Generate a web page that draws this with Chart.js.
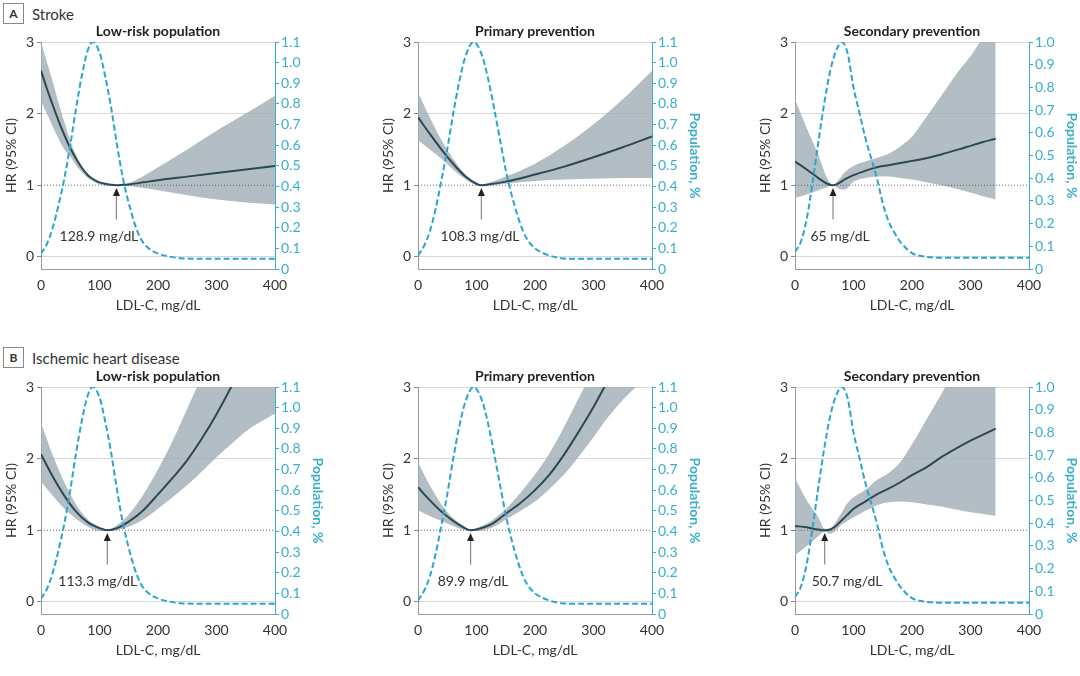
<!DOCTYPE html>
<html>
<head>
<meta charset="utf-8">
<script src="https://cdn.jsdelivr.net/npm/chart.js@4.4.0/dist/chart.umd.min.js"></script>
<style>
body { margin:0; width:1080px; height:676px; background:#fff; position:relative; overflow:hidden; font-family: Lato, sans-serif; }
.panel { position:absolute; width:326px; height:300px; }
.section { position:absolute; left:3px; font-size:15px; color:#333; display:flex; align-items:center; }
.section b { display:inline-block; width:19px; height:19px; border:1px solid #888; text-align:center; line-height:19px; font-size:12px; margin-right:8px; }
</style>
</head>
<body>
<div class="section" style="top:3px"><b>A</b>Stroke</div>
<div class="section" style="top:347px"><b>B</b>Ischemic heart disease</div>
<div class="panel" style="left:0px;top:20px"><canvas id="a1"></canvas></div>
<div class="panel" style="left:377px;top:20px"><canvas id="a2"></canvas></div>
<div class="panel" style="left:754px;top:20px"><canvas id="a3"></canvas></div>
<div class="panel" style="left:0px;top:365px"><canvas id="b1"></canvas></div>
<div class="panel" style="left:377px;top:365px"><canvas id="b2"></canvas></div>
<div class="panel" style="left:754px;top:365px"><canvas id="b3"></canvas></div>
<script>
// tick labels
const xTicks = [0, 100, 200, 300, 400]
const hrTicks = [0, 1, 2, 3]

// stroke, low-risk
const xA1 = [0,10,20,30,40,50,60,70,80,90,100,110,120,128.9,140,150,175,200,250,300,350,400]
const hrA1 = [2.6,2.35,2.12,1.9,1.7,1.52,1.37,1.24,1.14,1.08,1.04,1.02,1.005,1.0,1.005,1.01,1.04,1.07,1.12,1.17,1.22,1.27]
const upA1 = [3.0,2.72,2.45,2.15,1.88,1.62,1.42,1.27,1.16,1.09,1.05,1.03,1.01,1.0,1.01,1.03,1.13,1.25,1.5,1.76,2.0,2.25]
const loA1 = [2.17,2.0,1.82,1.65,1.5,1.4,1.28,1.18,1.1,1.05,1.01,1.0,0.995,1.0,0.995,0.99,0.96,0.93,0.86,0.8,0.76,0.73]

// stroke, primary prevention
const xA2 = [0,20,40,60,80,100,108.3,120,150,200,250,300,350,400]
const hrA2 = [1.95,1.72,1.5,1.3,1.13,1.02,1.0,1.01,1.05,1.15,1.26,1.39,1.53,1.68]
const upA2 = [2.3,1.95,1.63,1.37,1.16,1.04,1.01,1.03,1.12,1.3,1.55,1.85,2.2,2.6]
const loA2 = [1.63,1.5,1.37,1.22,1.09,1.0,0.995,0.995,1.02,1.06,1.08,1.09,1.1,1.1]

// stroke, secondary prevention
const xA3 = [0,20,40,55,65,75,85,100,120,140,160,180,200,220,250,280,300,320,343]
const hrA3 = [1.33,1.22,1.1,1.02,1.0,1.03,1.08,1.14,1.2,1.25,1.28,1.31,1.34,1.37,1.43,1.5,1.55,1.6,1.65]
const upA3 = [2.2,1.8,1.42,1.1,1.0,1.08,1.18,1.27,1.33,1.38,1.44,1.54,1.68,1.9,2.25,2.6,2.8,3.05,3.3]
const loA3 = [0.82,0.87,0.93,0.97,1.0,0.95,0.94,1.05,1.1,1.12,1.12,1.1,1.08,1.05,1.0,0.94,0.9,0.85,0.8]

// ischemic heart disease, low-risk
const xB1 = [0,20,40,60,80,100,113.3,130,150,175,200,225,250,275,300,325,350,400]
const hrB1 = [2.06,1.75,1.48,1.26,1.11,1.03,1.0,1.03,1.12,1.28,1.5,1.73,1.98,2.28,2.62,3.0,3.42,4.4]
const upB1 = [2.5,2.05,1.67,1.36,1.15,1.05,1.01,1.07,1.22,1.5,1.85,2.25,2.7,3.15,3.6,4.1,4.6,5.6]
const loB1 = [1.68,1.48,1.3,1.16,1.05,0.99,0.99,1.0,1.05,1.15,1.3,1.46,1.63,1.82,2.02,2.2,2.38,2.63]

// ischemic heart disease, primary prevention
const xB2 = [0,20,40,60,80,89.9,100,125,150,175,200,225,250,275,300,325,350,375,400]
const hrB2 = [1.6,1.42,1.26,1.13,1.03,1.0,1.01,1.08,1.23,1.38,1.56,1.78,2.06,2.38,2.72,3.1,3.5,3.9,4.3]
const upB2 = [1.95,1.63,1.36,1.17,1.05,1.01,1.03,1.13,1.3,1.52,1.78,2.08,2.45,2.85,3.25,3.7,4.1,4.5,4.9]
const loB2 = [1.28,1.2,1.13,1.06,1.0,0.99,0.99,1.03,1.15,1.27,1.4,1.58,1.78,2.03,2.3,2.58,2.82,3.02,3.2]

// ischemic heart disease, secondary prevention
const xB3 = [0,20,40,50.7,60,70,80,90,100,120,140,160,180,200,225,250,275,300,343]
const hrB3 = [1.06,1.04,1.01,1.0,1.01,1.06,1.14,1.22,1.3,1.4,1.5,1.58,1.67,1.77,1.88,2.02,2.14,2.25,2.42]
const upB3 = [1.73,1.42,1.18,1.02,1.02,1.12,1.25,1.38,1.46,1.56,1.7,1.8,1.95,2.2,2.55,2.9,3.25,3.55,4.0]
const loB3 = [0.65,0.78,0.92,0.98,0.95,1.0,1.08,1.13,1.18,1.27,1.35,1.39,1.4,1.39,1.36,1.33,1.29,1.25,1.2]

// population distributions (%)
const popLowX = [0,10,20,30,40,50,60,70,80,88,100,110,120,130,140,150,160,170,180,200,220,240,260,400]
const popLowY = [0.075,0.12,0.2,0.31,0.44,0.6,0.78,0.94,1.06,1.1,1.05,0.93,0.78,0.6,0.44,0.32,0.22,0.15,0.11,0.075,0.06,0.052,0.05,0.05]
const popPrimX = [0,10,20,30,40,50,60,70,80,95,110,120,130,140,150,160,170,180,190,200,220,240,260,400]
const popPrimY = [0.065,0.11,0.18,0.29,0.43,0.58,0.75,0.9,1.02,1.1,1.03,0.92,0.78,0.63,0.48,0.36,0.26,0.18,0.13,0.1,0.07,0.055,0.05,0.05]
const popSecX = [0,10,20,30,40,50,60,70,80,90,100,110,120,130,140,150,160,170,180,200,220,240,260,400]
const popSecY = [0.075,0.12,0.22,0.38,0.56,0.73,0.87,0.96,1.0,0.95,0.8,0.69,0.58,0.49,0.4,0.29,0.21,0.16,0.12,0.07,0.055,0.05,0.05,0.05]

const HR_LINE = '#2c4854'
const BAND = 'rgba(160,174,181,0.8)'
const POP = '#2ba5cf'
const TEAL = '#3aaecb'
const TXT = '#333'
const FONT = 'Lato'

const pts = (xs, ys) => xs.map((x, i) => ({ x: x, y: ys[i] }))

const panelDecor = {
    id: 'panelDecor',
    afterDatasetsDraw(chart, args, o) {
        const ctx = chart.ctx
        const area = chart.chartArea
        const sx = chart.scales.x
        const sy = chart.scales.y
        ctx.save()
        // flecha al minimo
        const ax = sx.getPixelForValue(o.opt)
        const tipY = sy.getPixelForValue(0.96)
        const tailY = sy.getPixelForValue(0.52)
        ctx.strokeStyle = '#888'
        ctx.lineWidth = 1.2
        ctx.beginPath()
        ctx.moveTo(ax, tipY + 6)
        ctx.lineTo(ax, tailY)
        ctx.stroke()
        ctx.fillStyle = '#222'
        ctx.beginPath()
        ctx.moveTo(ax, tipY)
        ctx.lineTo(ax - 3.5, tipY + 8)
        ctx.lineTo(ax + 3.5, tipY + 8)
        ctx.closePath()
        ctx.fill()
        ctx.font = '14px ' + FONT
        ctx.fillStyle = TXT
        ctx.textAlign = 'center'
        ctx.textBaseline = 'middle'
        ctx.fillText(o.label, sx.getPixelForValue(o.labelX), sy.getPixelForValue(0.28))
        ctx.font = 'bold 14px ' + FONT
        ctx.fillStyle = '#222'
        ctx.fillText(o.title, (area.left + area.right) / 2, area.top - 11)
        ctx.restore()
    }
}

const makePanel = (id, p) => {
    const popTicks = []
    for (let i = 0; i <= Math.round(p.popMax * 10); i++) popTicks.push(i / 10)
    new Chart(document.getElementById(id), {
        type: 'line',
        data: {
            datasets: [
                { data: pts(p.x, p.up), yAxisID: 'y', borderWidth: 0, pointRadius: 0, fill: '+1', backgroundColor: BAND, cubicInterpolationMode: 'monotone', order: 3 },
                { data: pts(p.x, p.lo), yAxisID: 'y', borderWidth: 0, pointRadius: 0, fill: false, cubicInterpolationMode: 'monotone', order: 3 },
                { data: [{ x: 0, y: 1 }, { x: 400, y: 1 }], yAxisID: 'y', borderColor: '#666', borderWidth: 1, borderDash: [1, 2], pointRadius: 0, order: 2 },
                { data: pts(p.x, p.hr), yAxisID: 'y', borderColor: HR_LINE, borderWidth: 2, pointRadius: 0, cubicInterpolationMode: 'monotone', order: 1 },
                { data: pts(p.popX, p.popY), yAxisID: 'y2', borderColor: POP, borderWidth: 2, borderDash: [6, 3], pointRadius: 0, cubicInterpolationMode: 'monotone', order: 0 }
            ]
        },
        options: {
            responsive: true,
            maintainAspectRatio: false,
            animation: false,
            layout: { padding: { top: 22, left: 0, right: 0, bottom: 0 } },
            plugins: {
                legend: { display: false },
                tooltip: { enabled: false },
                panelDecor: { title: p.title, opt: p.opt, label: p.label, labelX: p.labelX }
            },
            scales: {
                x: {
                    type: 'linear', min: 0, max: 400,
                    afterBuildTicks: s => { s.ticks = xTicks.map(v => ({ value: v })) },
                    afterFit: s => { s.height = 51 },
                    grid: { drawOnChartArea: false, drawTicks: false },
                    border: { color: '#999' },
                    ticks: { color: TXT, font: { family: FONT, size: 14 }, padding: 8 },
                    title: { display: true, text: 'LDL-C, mg/dL', color: TXT, font: { family: FONT, size: 14 }, padding: { top: 2, bottom: 6 } }
                },
                y: {
                    position: 'left', min: -0.17, max: 3,
                    afterBuildTicks: s => { s.ticks = hrTicks.map(v => ({ value: v })) },
                    afterFit: s => { s.width = 41 },
                    grid: { color: c => (c.tick && c.tick.value === 1) ? 'rgba(0,0,0,0)' : '#d8d8d8', tickColor: '#888', tickLength: 4 },
                    border: { color: '#999' },
                    ticks: { color: TXT, font: { family: FONT, size: 14 }, padding: 3 },
                    title: { display: true, text: 'HR (95% CI)', color: TXT, font: { family: FONT, size: 14 }, padding: { top: 3, bottom: 0 } }
                },
                y2: {
                    position: 'right', min: 0, max: p.popMax,
                    afterBuildTicks: s => { s.ticks = popTicks.map(v => ({ value: v })) },
                    afterFit: s => { s.width = 51 },
                    grid: { drawOnChartArea: false, tickColor: TEAL, tickLength: 4 },
                    border: { color: TEAL },
                    ticks: { color: TEAL, font: { family: FONT, size: 14 }, padding: 2, callback: v => v === 0 ? '0' : v.toFixed(1) },
                    title: { display: p.popTitle, text: 'Population, %', color: TEAL, font: { family: FONT, size: 14, weight: 'bold' }, padding: { top: 0, bottom: 3 } }
                }
            }
        },
        plugins: [panelDecor]
    })
}

makePanel('a1', { title: 'Low-risk population', x: xA1, hr: hrA1, up: upA1, lo: loA1, popX: popLowX, popY: popLowY, popMax: 1.1, popTitle: false, opt: 128.9, label: '128.9 mg/dL', labelX: 99 })
makePanel('a2', { title: 'Primary prevention', x: xA2, hr: hrA2, up: upA2, lo: loA2, popX: popPrimX, popY: popPrimY, popMax: 1.1, popTitle: true, opt: 108.3, label: '108.3 mg/dL', labelX: 106 })
makePanel('a3', { title: 'Secondary prevention', x: xA3, hr: hrA3, up: upA3, lo: loA3, popX: popSecX, popY: popSecY, popMax: 1.0, popTitle: true, opt: 65, label: '65 mg/dL', labelX: 77 })
makePanel('b1', { title: 'Low-risk population', x: xB1, hr: hrB1, up: upB1, lo: loB1, popX: popLowX, popY: popLowY, popMax: 1.1, popTitle: true, opt: 113.3, label: '113.3 mg/dL', labelX: 97 })
makePanel('b2', { title: 'Primary prevention', x: xB2, hr: hrB2, up: upB2, lo: loB2, popX: popPrimX, popY: popPrimY, popMax: 1.1, popTitle: true, opt: 89.9, label: '89.9 mg/dL', labelX: 94 })
makePanel('b3', { title: 'Secondary prevention', x: xB3, hr: hrB3, up: upB3, lo: loB3, popX: popSecX, popY: popSecY, popMax: 1.0, popTitle: true, opt: 50.7, label: '50.7 mg/dL', labelX: 89 })
</script>
</body>
</html>
